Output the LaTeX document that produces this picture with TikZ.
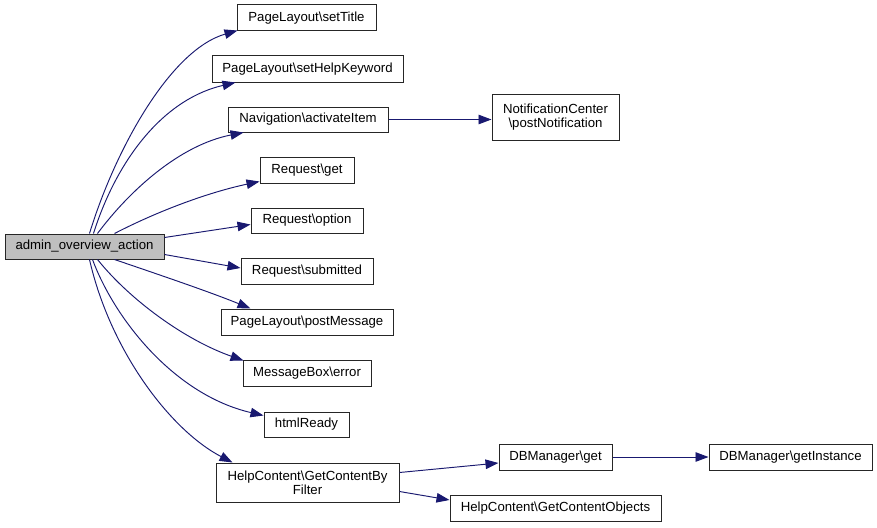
\documentclass[tikz,border=0pt]{standalone}
\usepackage{fontspec}
\setmainfont{Liberation Sans}
\usetikzlibrary{arrows.meta,calc}
\definecolor{edgeblue}{RGB}{25,25,112}
\definecolor{maingrey}{RGB}{191,191,191}
\tikzset{
  fn/.style={draw=black!85, line width=1pt, fill=white, rectangle, inner sep=0pt, align=center,
    font=\fontsize{13.2}{14.3}\selectfont, text=black},
  edge/.style={draw=edgeblue, line width=0.95pt, -{Triangle[length=13pt,width=9.5pt]}, fill=none},
}
\begin{document}
\begin{tikzpicture}[x=1pt,y=-1pt]
\useasboundingbox (0,0) rectangle (877,527);
\fill[white] (0,0) rectangle (877,527);
% nodes
\node[fn, fill=maingrey, minimum width=159pt, minimum height=25pt] (main) at (84.5,246.5) {admin\_overview\_action};
\node[fn, minimum width=139pt, minimum height=26pt] (t1) at (306.5,18) {PageLayout\textbackslash setTitle};
\node[fn, minimum width=191pt, minimum height=26pt] (t2) at (307.5,69) {PageLayout\textbackslash setHelpKeyword};
\node[fn, minimum width=160pt, minimum height=25pt] (t3) at (308,119.5) {Navigation\textbackslash activateItem};
\node[fn, minimum width=127pt, minimum height=46pt] (nc) at (555.5,117) {NotificationCenter\\\textbackslash postNotification};
\node[fn, minimum width=94pt, minimum height=26pt] (rget) at (307,170) {Request\textbackslash get};
\node[fn, minimum width=112pt, minimum height=25pt] (ropt) at (307,220.5) {Request\textbackslash option};
\node[fn, minimum width=132pt, minimum height=26pt] (rsub) at (307,271) {Request\textbackslash submitted};
\node[fn, minimum width=172pt, minimum height=26pt] (pm) at (307,322) {PageLayout\textbackslash postMessage};
\node[fn, minimum width=128pt, minimum height=26pt] (mb) at (307,373) {MessageBox\textbackslash error};
\node[fn, minimum width=85pt, minimum height=25pt] (hr) at (306.5,424.5) {htmlReady};
\node[fn, minimum width=183pt, minimum height=39pt] (hc) at (307.5,482.5) {HelpContent\textbackslash GetContentBy\\Filter};
\node[fn, minimum width=113pt, minimum height=26pt] (dbget) at (555.5,457) {DBManager\textbackslash get};
\node[fn, minimum width=163pt, minimum height=26pt] (dbinst) at (790.5,457) {DBManager\textbackslash getInstance};
\node[fn, minimum width=211pt, minimum height=26pt] (gco) at (555.5,508) {HelpContent\textbackslash GetContentObjects};
% edges from main
\draw[edge] ($(main.north west)+(85,0)$) .. controls (115,150) and (170,50) .. ($(t1.south west)+(1,-1)$);
\draw[edge] ($(main.north west)+(89,0)$) .. controls (115,165) and (160,100) .. ($(t2.south west)+(24,0)$);
\draw[edge] ($(main.north west)+(93,0)$) .. controls (130,190) and (180,145) .. ($(t3.south west)+(16,0)$);
\draw[edge] ($(main.north west)+(110,0)$) .. controls (160,210) and (210,192) .. ($(rget.south west)+(0,-2)$);
\draw[edge] ($(main.east)+(0,-9)$) -- ($(ropt.west)+(0,4)$);
\draw[edge] ($(main.east)+(0,8)$) -- ($(rsub.west)+(0,-3)$);
\draw[edge] ($(main.south west)+(110,0)$) .. controls (160,275) and (210,292) .. ($(pm.north west)+(30,0)$);
\draw[edge] ($(main.south west)+(93,0)$) .. controls (130,300) and (185,340) .. ($(mb.north west)+(1,1)$);
\draw[edge] ($(main.south west)+(88,0)$) .. controls (115,320) and (175,395) .. ($(hr.north west)+(0,4)$);
\draw[edge] ($(main.south west)+(85,0)$) .. controls (110,350) and (170,430) .. ($(hc.north west)+(17,0)$);
% other edges
\draw[edge] (t3.east) -- (nc.west |- t3.east);
\draw[edge] ($(hc.east)+(0,-10)$) -- ($(dbget.west)+(0,6)$);
\draw[edge] ($(hc.east)+(0,9)$) -- ($(gco.west)+(0,-8)$);
\draw[edge] (dbget.east) -- (dbinst.west);
\end{tikzpicture}
\end{document}
